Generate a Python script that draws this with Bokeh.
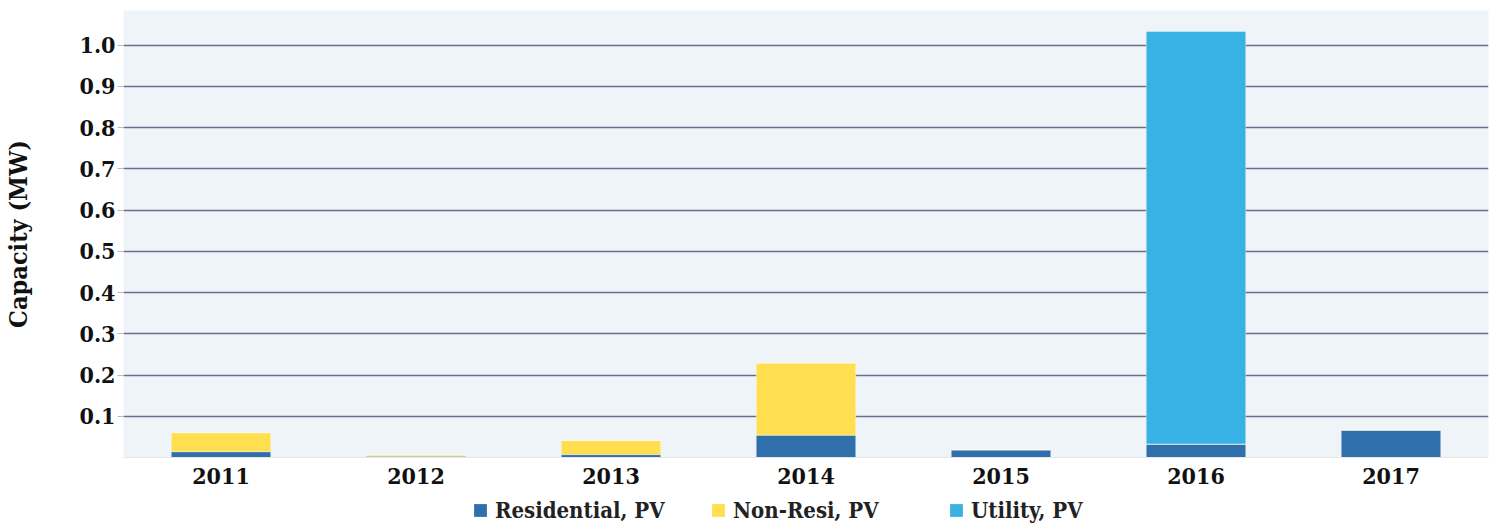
from bokeh.plotting import figure
from bokeh.layouts import column
from bokeh.models import (ColumnDataSource, FixedTicker, Legend, LegendItem,
                          Range1d, FactorRange, CustomJSTickFormatter)
from bokeh.embed import file_html
from bokeh.resources import INLINE

# ---- data ----
years = ["2011", "2012", "2013", "2014", "2015", "2016", "2017"]
residential = [0.014, 0.003, 0.007, 0.054, 0.018, 0.032, 0.066]
non_resi = [0.046, 0.003, 0.034, 0.175, 0.001, 0.001, 0.001]
utility = [0.0, 0.0, 0.0, 0.0, 0.0, 1.0, 0.0]
series_names = ["Residential, PV", "Non-Resi, PV", "Utility, PV"]
series_colors = ["#2f6fac", "#ffdf4f", "#38b2e4"]
y_ticks = [0.1, 0.2, 0.3, 0.4, 0.5, 0.6, 0.7, 0.8, 0.9, 1.0]
y_max = 1.084

FONT = "DejaVu Serif Condensed"
TEXT = "#111111"

source = ColumnDataSource(dict(year=years, res=residential, nonres=non_resi, util=utility))

p = figure(x_range=FactorRange(*years), y_range=Range1d(0, y_max),
           width=1494, height=487, output_backend="svg", toolbar_location=None,
           min_border_left=121, min_border_right=6, min_border_top=10, min_border_bottom=30,
           background_fill_color="#eff4f8", border_fill_color="white",
           outline_line_color=None)

renderers = p.vbar_stack(["res", "nonres", "util"], x="year", width=0.51, source=source,
                         color=series_colors, line_color="white", line_width=1, line_alpha=0.35)

# y axis
p.yaxis.ticker = FixedTicker(ticks=y_ticks)
p.yaxis.formatter = CustomJSTickFormatter(code="return tick.toFixed(1);")
p.yaxis.axis_label = "Capacity (MW)"
p.yaxis.axis_label_text_font = FONT
p.yaxis.axis_label_text_font_style = "bold"
p.yaxis.axis_label_text_font_size = "25px"
p.yaxis.axis_label_text_color = TEXT
p.yaxis.axis_label_standoff = 44
p.yaxis.major_label_text_font = FONT
p.yaxis.major_label_text_font_style = "bold"
p.yaxis.major_label_text_font_size = "23px"
p.yaxis.major_label_text_color = TEXT
p.yaxis.major_label_standoff = 2
p.yaxis.major_tick_out = 6
p.yaxis.major_tick_in = 0
p.yaxis.major_tick_line_color = "#b8b6c8"
p.yaxis.minor_tick_line_color = None
p.yaxis.axis_line_color = None

# x axis
p.xaxis.major_label_text_font = FONT
p.xaxis.major_label_text_font_style = "bold"
p.xaxis.major_label_text_font_size = "23px"
p.xaxis.major_label_text_color = TEXT
p.xaxis.major_label_standoff = 4
p.xaxis.major_tick_line_color = None
p.xaxis.axis_line_color = "#e6e6e6"

# grid
p.xgrid.grid_line_color = None
p.ygrid.ticker = FixedTicker(ticks=y_ticks)
p.ygrid.grid_line_color = "#6f6b8a"
p.ygrid.grid_line_width = 1.5

# ---- legend strip below the chart (proxy bars sit outside its visible range) ----
lg = figure(width=1494, height=36, output_backend="svg", toolbar_location=None,
            x_range=FactorRange(*years), y_range=Range1d(10, 11),
            min_border_left=121, min_border_right=6, min_border_top=0, min_border_bottom=0,
            outline_line_color=None, background_fill_color="white",
            x_axis_type=None, y_axis_type=None)
lg.xgrid.visible = False
lg.ygrid.visible = False
swatches = lg.vbar_stack(["res", "nonres", "util"], x="year", width=0.51, source=source,
                         color=series_colors, line_color=None)

legend = Legend(items=[LegendItem(label=n, renderers=[r]) for n, r in zip(series_names, swatches)],
                orientation="horizontal", location=(349, 0),
                glyph_width=16, glyph_height=16, label_standoff=7, spacing=0,
                label_width=215, padding=0, margin=0,
                label_text_font=FONT, label_text_font_style="bold",
                label_text_font_size="22px", label_text_color="#222222",
                border_line_color=None, background_fill_alpha=0)
lg.add_layout(legend, "center")

layout = column(p, lg, spacing=0)
open("out.html", "w").write(file_html(layout, INLINE))
